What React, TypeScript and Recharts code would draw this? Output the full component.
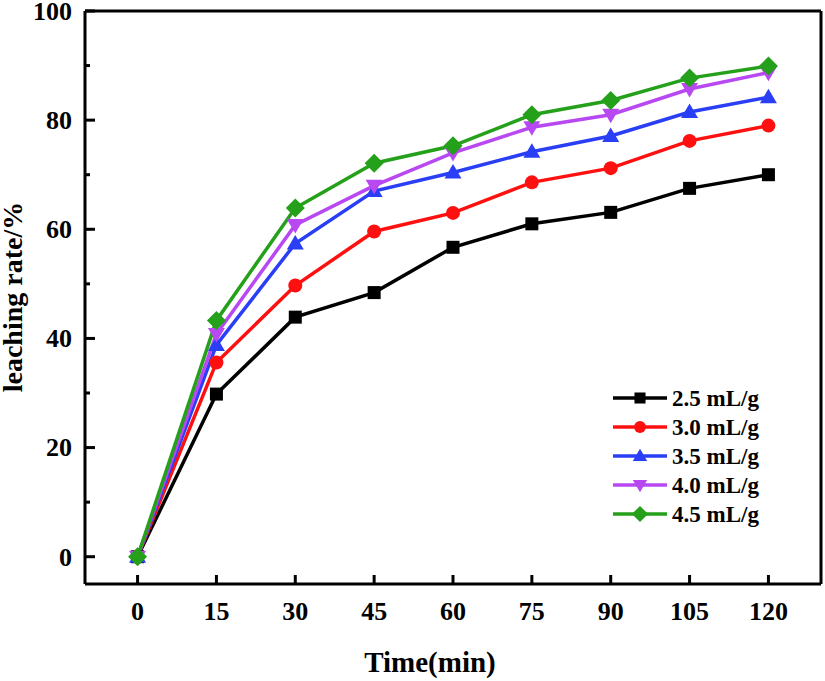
import React from 'react';
import { LineChart, Line, XAxis, YAxis, ReferenceLine, Legend } from 'recharts';

// Tiempo de lixiviación (min)
const times = [0, 15, 30, 45, 60, 75, 90, 105, 120];

// Tasa de lixiviación (%) por relación líquido/sólido
const rate25 = [0, 29.8, 43.9, 48.4, 56.7, 61.0, 63.1, 67.5, 70.0];
const rate30 = [0, 35.6, 49.7, 59.6, 63.0, 68.6, 71.2, 76.2, 79.0];
const rate35 = [0, 38.8, 57.4, 67.0, 70.4, 74.2, 77.1, 81.5, 84.2];
const rate40 = [0, 40.8, 60.8, 68.0, 74.0, 78.7, 81.0, 85.7, 88.7];
const rate45 = [0, 43.3, 63.9, 72.1, 75.3, 81.0, 83.6, 87.7, 89.9];

const seriesNames = ['2.5 mL/g', '3.0 mL/g', '3.5 mL/g', '4.0 mL/g', '4.5 mL/g'];
const seriesKeys = ['r25', 'r30', 'r35', 'r40', 'r45'];
const seriesColors = ['#000000', '#ff1010', '#2a3ef5', '#b848f2', '#25a01a'];
const seriesShapes = ['square', 'circle', 'up', 'down', 'diamond'];

const xTicks = [0, 15, 30, 45, 60, 75, 90, 105, 120];
const yTicks = [0, 10, 20, 30, 40, 50, 60, 70, 80, 90, 100];

const data = times.map((t, i) => ({
	t,
	r25: rate25[i],
	r30: rate30[i],
	r35: rate35[i],
	r40: rate40[i],
	r45: rate45[i],
}));

const FONT = '"Liberation Serif", "Times New Roman", serif';

function Marker({ shape, cx, cy, color, s = 1 }: { shape: string; cx: number; cy: number; color: string; s?: number }) {
	if (shape === 'square') return <rect x={cx - 6.5 * s} y={cy - 6.5 * s} width={13 * s} height={13 * s} fill={color} />;
	if (shape === 'circle') return <circle cx={cx} cy={cy} r={7 * s} fill={color} />;
	if (shape === 'up')
		return <polygon points={`${cx},${cy - 8.5 * s} ${cx - 8.5 * s},${cy + 6 * s} ${cx + 8.5 * s},${cy + 6 * s}`} fill={color} />;
	if (shape === 'down')
		return <polygon points={`${cx},${cy + 8.5 * s} ${cx - 8.5 * s},${cy - 6 * s} ${cx + 8.5 * s},${cy - 6 * s}`} fill={color} />;
	return <polygon points={`${cx},${cy - 9.5 * s} ${cx + 9.5 * s},${cy} ${cx},${cy + 9.5 * s} ${cx - 9.5 * s},${cy}`} fill={color} />;
}

const YTick = (props: any) => {
	const { x, y, payload } = props;
	const major = payload.value % 20 === 0;
	return (
		<g>
			<line x1={x} x2={x + (major ? 10 : 5)} y1={y} y2={y} stroke='#000' strokeWidth={3} />
			{major && (
				<text x={x - 13} y={y} dy='0.34em' textAnchor='end' fontFamily={FONT} fontWeight='bold' fontSize={26} fill='#000'>
					{payload.value}
				</text>
			)}
		</g>
	);
};

const XTick = (props: any) => {
	const { x, y, payload } = props;
	return (
		<g>
			<line x1={x} x2={x} y1={y} y2={y - 9} stroke='#000' strokeWidth={3} />
			<text x={x} y={y + 36} textAnchor='middle' fontFamily={FONT} fontWeight='bold' fontSize={26} fill='#000'>
				{payload.value}
			</text>
		</g>
	);
};

const LegendContent = () => (
	<svg width={200} height={150}>
		{seriesNames.map((name, i) => {
			const cy = 13 + i * 29;
			return (
				<g key={name}>
					<line x1={8} x2={62} y1={cy} y2={cy} stroke={seriesColors[i]} strokeWidth={3.5} />
					<Marker shape={seriesShapes[i]} cx={35} cy={cy} color={seriesColors[i]} s={0.85} />
					<text x={67} y={cy} dy='0.33em' fontFamily={FONT} fontWeight='bold' fontSize={23} fill='#000'>
						{name}
					</text>
				</g>
			);
		})}
	</svg>
);

export default function App() {
	return (
		<div style={{ position: 'absolute', left: 0, top: 0, background: '#fff' }}>
			<LineChart width={825} height={681} data={data} margin={{ top: 11, right: 4, bottom: 67, left: 25 }}>
				<XAxis
					dataKey='t'
					type='number'
					domain={[-10, 130]}
					ticks={xTicks}
					height={30}
					tickSize={0}
					tickMargin={0}
					tick={<XTick />}
					axisLine={{ stroke: '#000', strokeWidth: 3 }}
					tickLine={false}
					allowDataOverflow
				/>
				<YAxis
					type='number'
					domain={[-5, 100]}
					ticks={yTicks}
					width={60}
					tickSize={0}
					tickMargin={0}
					tick={<YTick />}
					axisLine={{ stroke: '#000', strokeWidth: 3 }}
					tickLine={false}
					allowDataOverflow
					label={{
						content: () => (
							<text x={22} y={297} transform='rotate(-90 22 297)' textAnchor='middle' fontFamily={FONT} fontWeight='bold' fontSize={28} fill='#000'>
								leaching rate/%
							</text>
						),
					}}
				/>
				<ReferenceLine y={100} stroke='#000' strokeWidth={3} ifOverflow='visible' />
				<ReferenceLine x={130} stroke='#000' strokeWidth={3} ifOverflow='visible' />
				{seriesKeys.map((k, i) => (
					<Line
						key={k}
						type='linear'
						dataKey={k}
						name={seriesNames[i]}
						stroke={seriesColors[i]}
						strokeWidth={3.5}
						isAnimationActive={false}
						dot={(p: any) => <Marker key={`${k}-${p.index}`} shape={seriesShapes[i]} cx={p.cx} cy={p.cy} color={seriesColors[i]} />}
						activeDot={false}
					/>
				))}
				<Legend
					layout='horizontal'
					verticalAlign='middle'
					align='center'
					content={<LegendContent />}
					wrapperStyle={{ position: 'absolute', left: 605, top: 385, width: 200, height: 150 }}
				/>
				<text x={430} y={672} textAnchor='middle' fontFamily={FONT} fontWeight='bold' fontSize={29} fill='#000'>
					Time(min)
				</text>
			</LineChart>
		</div>
	);
}
